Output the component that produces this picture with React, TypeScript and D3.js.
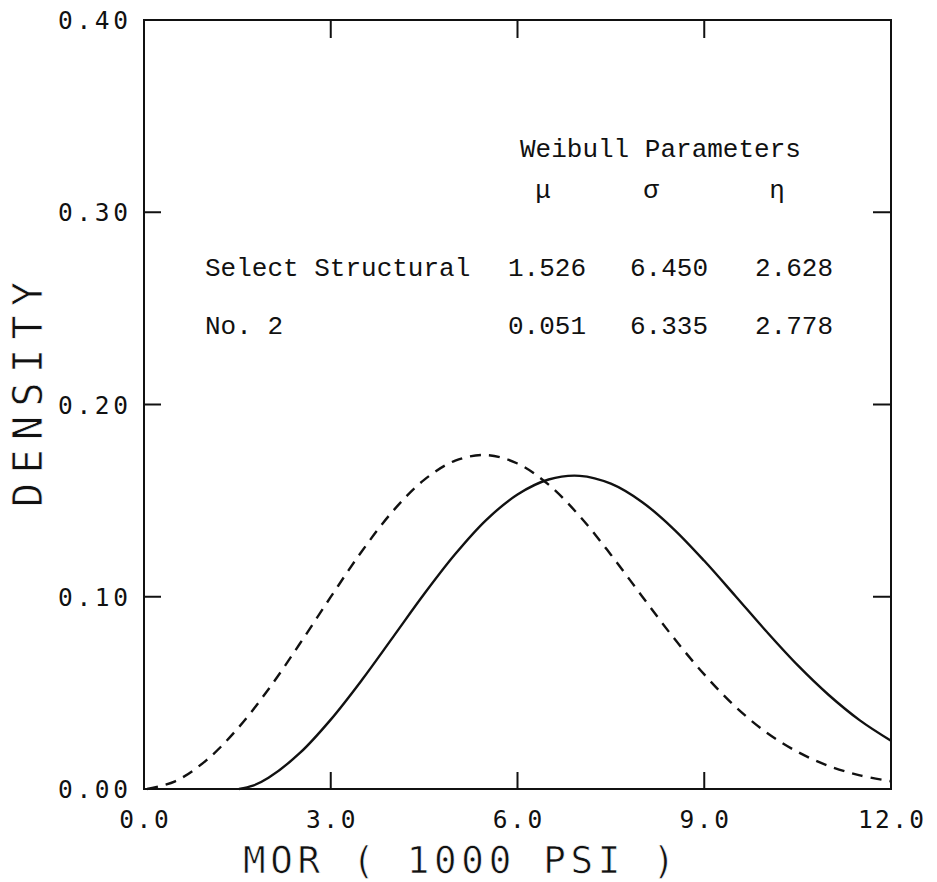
import React from "react";
import * as d3 from "d3";

// MOR values (1000 psi) at which the densities are sampled
const selectX = [1.526, 1.75, 2.0, 2.5, 3.0, 3.5, 4.0, 4.5, 5.0, 5.5, 6.0, 6.5, 7.0, 7.5, 8.0, 8.5, 9.0, 9.5, 10.0, 10.5, 11.0, 11.5, 12.0];
const selectDensity = [0, 0.0017, 0.0058, 0.0186, 0.0361, 0.0567, 0.079, 0.1014, 0.1222, 0.14, 0.1532, 0.161, 0.1629, 0.1588, 0.1493, 0.1355, 0.1187, 0.1004, 0.0819, 0.0644, 0.0489, 0.0357, 0.0251];

const no2X = [0.051, 0.5, 1.0, 1.5, 2.0, 2.5, 3.0, 3.5, 4.0, 4.5, 5.0, 5.5, 6.0, 6.5, 7.0, 7.5, 8.0, 8.5, 9.0, 9.5, 10.0, 10.5, 11.0, 11.5, 12.0];
const no2Density = [0, 0.004, 0.0149, 0.0313, 0.0519, 0.0754, 0.0999, 0.1237, 0.1446, 0.1608, 0.1708, 0.1737, 0.1693, 0.1583, 0.1419, 0.1219, 0.1003, 0.079, 0.0596, 0.0428, 0.0294, 0.0193, 0.012, 0.0071, 0.004];

const xTicks = [0, 3, 6, 9, 12];
const xTickLabels = ["0.0", "3.0", "6.0", "9.0", "12.0"];
const yTicks = [0, 0.1, 0.2, 0.3, 0.4];
const yTickLabels = ["0.00", "0.10", "0.20", "0.30", "0.40"];

const paramHeader = "Weibull Parameters";
const paramSymbols = ["μ", "σ", "η"];
const gradeNames = ["Select Structural", "No. 2"];
const gradeParams = [
  ["1.526", "6.450", "2.628"],
  ["0.051", "6.335", "2.778"],
];

const W = 937;
const H = 882;
const plotFont = "'DejaVu Sans Mono', monospace";
const typeFont = "'Liberation Mono', 'Courier New', monospace";

// large plotter lettering, thinned a little with a white outline under the fill
const titleText = {
  fill: "#111",
  stroke: "#fff",
  strokeWidth: 0.7,
} as const;

export default function App() {
  const x = d3.scaleLinear().domain([0, 12]).range([144, 891]);
  const y = d3.scaleLinear().domain([0, 0.4]).range([789, 20]);

  const line = d3
    .line<[number, number]>()
    .x((d) => x(d[0]))
    .y((d) => y(d[1]))
    .curve(d3.curveCatmullRom.alpha(0.5));

  const selectPath = line(selectX.map((v, i) => [v, selectDensity[i]]) as [number, number][]) || "";
  const no2Path = line(no2X.map((v, i) => [v, no2Density[i]]) as [number, number][]) || "";

  const innerX = xTicks.slice(1, -1);
  const innerY = yTicks.slice(1, -1);
  const tickLen = 17;

  const symbolX = [543, 651, 777];
  const valueX = [508, 630, 755];
  const rowY = [276, 334];

  return (
    <svg
      width={W}
      height={H}
      viewBox={`0 0 ${W} ${H}`}
      style={{ position: "absolute", left: 0, top: 0, background: "#fff" }}
    >
      <rect x={0} y={0} width={W} height={H} fill="#fff" />

      {/* frame */}
      <rect
        x={x(0)}
        y={y(0.4)}
        width={x(12) - x(0)}
        height={y(0) - y(0.4)}
        fill="none"
        stroke="#111"
        strokeWidth={2}
      />

      {/* inward ticks on all four sides */}
      {innerX.map((t) => (
        <g key={`xt${t}`} stroke="#111" strokeWidth={2}>
          <line x1={x(t)} x2={x(t)} y1={y(0)} y2={y(0) - tickLen} />
          <line x1={x(t)} x2={x(t)} y1={y(0.4)} y2={y(0.4) + tickLen + 1} />
        </g>
      ))}
      {innerY.map((t) => (
        <g key={`yt${t}`} stroke="#111" strokeWidth={2}>
          <line x1={x(0)} x2={x(0) + tickLen} y1={y(t)} y2={y(t)} />
          <line x1={x(12)} x2={x(12) - tickLen - 1} y1={y(t)} y2={y(t)} />
        </g>
      ))}

      {/* tick labels */}
      {xTicks.map((t, i) => {
        const label = xTickLabels[i];
        const w = label.length * 16.5;
        return (
          <text
            key={`xl${t}`}
            x={x(t) - w / 2}
            y={828}
            fontFamily={plotFont}
            fontSize={24.5}
            textLength={w}
            fill="#111"
          >
            {label}
          </text>
        );
      })}
      {yTicks.map((t, i) => (
        <text
          key={`yl${t}`}
          x={58}
          y={y(t) + 9}
          fontFamily={plotFont}
          fontSize={24.5}
          textLength={70}
          fill="#111"
        >
          {yTickLabels[i]}
        </text>
      ))}

      {/* axis titles */}
      <text
        x={243}
        y={873}
        fontFamily={plotFont}
        fontSize={37.5}
        textLength={432}
        {...titleText}
      >
        MOR ( 1000 PSI )
      </text>
      <text
        transform={`translate(42, 507) rotate(-90)`}
        fontFamily={plotFont}
        fontSize={40}
        textLength={225}
        {...titleText}
      >
        DENSITY
      </text>

      {/* density curves */}
      <path d={selectPath} fill="none" stroke="#111" strokeWidth={2.4} />
      <path d={no2Path} fill="none" stroke="#111" strokeWidth={2.4} strokeDasharray="11 8" />

      {/* parameter table */}
      <g fontFamily={typeFont} fontSize={26} fill="#111">
        <text x={520} y={157}>{paramHeader}</text>
        {paramSymbols.map((s, i) => (
          <text key={s} x={symbolX[i]} y={198} textAnchor="middle">
            {s}
          </text>
        ))}
        {gradeNames.map((g, r) => (
          <g key={g}>
            <text x={205} y={rowY[r]}>{g}</text>
            {gradeParams[r].map((v, c) => (
              <text key={c} x={valueX[c]} y={rowY[r]}>
                {v}
              </text>
            ))}
          </g>
        ))}
      </g>
    </svg>
  );
}
